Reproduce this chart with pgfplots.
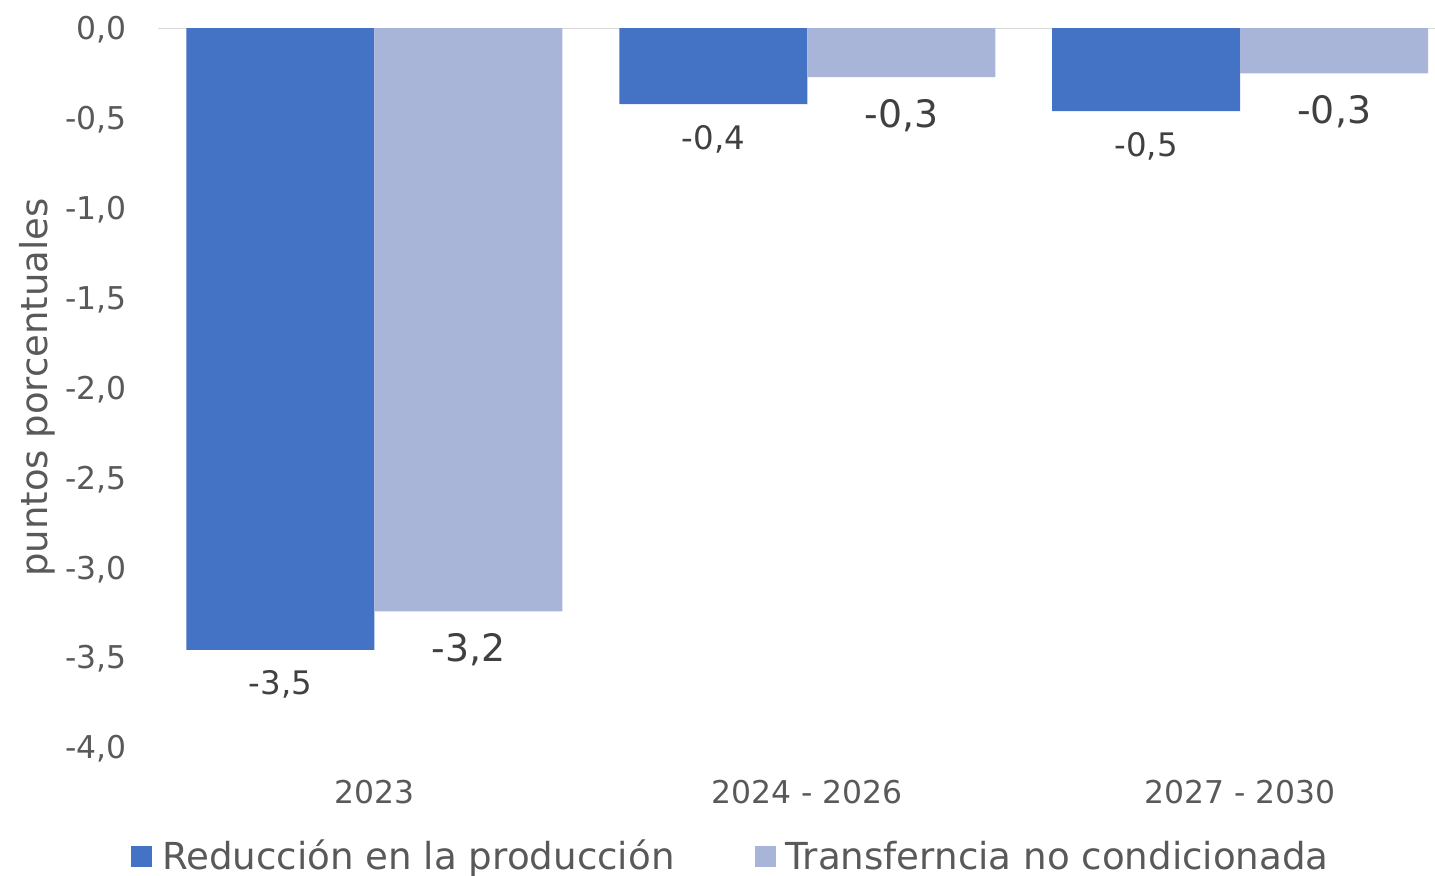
\documentclass[border=0pt]{standalone}
\usepackage{pgfplots}
\pgfplotsset{compat=1.18}
\usepackage{fontspec}
\setmainfont{DejaVu Sans}
\definecolor{darkbar}{HTML}{4472C4}
\definecolor{lightbar}{HTML}{A9B4D9}
\definecolor{ticktext}{HTML}{595959}
\definecolor{labeltext}{HTML}{404040}
\definecolor{gridc}{HTML}{D9D9D9}
\begin{document}
\begin{tikzpicture}
\path[use as bounding box] (0,0) rectangle (717.5pt,437.5pt);
\begin{axis}[
  at={(79pt,64pt)}, anchor=south west,
  width=638.5pt, height=359.5pt, scale only axis,
  xmin=-0.5, xmax=2.45, ymin=-4, ymax=0,
  ybar=0pt, bar width=94pt,
  axis line style={draw=none},
  tick style={draw=none},
  xtick={0,1,2}, xticklabels={2023, 2024 - 2026, 2027 - 2030},
  ytick={-4,-3.5,-3,-2.5,-2,-1.5,-1,-0.5,0},
  /pgf/number format/.cd, fixed, fixed zerofill, precision=1, use comma, assume math mode=true,
  /pgfplots/.cd,
  ticklabel style={font=\fontsize{15.7}{18}\selectfont, text=ticktext, inner sep=0pt},
  yticklabel style={xshift=-15.5pt, yshift=-1pt},
  xticklabel style={yshift=-12pt},
  ylabel={puntos porcentuales},
  ylabel style={at={(rel axis cs:-0.0948,0.5)}, anchor=center, inner sep=0pt, font=\fontsize{18.5}{22}\selectfont, text=ticktext},
  legend columns=2,
  legend style={at={(rel axis cs:-0.02114,-0.1523)}, anchor=west, draw=none, fill=none, inner sep=0pt, outer sep=0pt,
    nodes={inner sep=0pt, text=ticktext, font=\fontsize{18.6}{22}\selectfont},
    /tikz/every odd column/.append style={column sep=5pt},
    /tikz/every even column/.append style={column sep=40pt}},
  legend image code/.code={\fill[#1] (0pt,-5.25pt) rectangle (10.5pt,5.25pt);},
  nodes near coords={\pgfmathprintnumber[fixed,fixed zerofill,precision=1,use comma,assume math mode=true]{\pgfplotspointmeta}},
]
\draw[gridc, line width=1pt] (rel axis cs:0,1) -- (rel axis cs:1,1);
\addplot[fill=darkbar, draw=none,
  every node near coord/.append style={anchor=north, inner sep=0pt, yshift=-10.3pt, text=labeltext, font=\fontsize{16.2}{19}\selectfont}]
  coordinates {(0,-3.46) (1,-0.423) (2,-0.462)};
\addlegendentry{Reducción en la producción}
\addplot[fill=lightbar, draw=none,
  every node near coord/.append style={anchor=north, inner sep=0pt, yshift=-10.8pt, text=labeltext, font=\fontsize{18.9}{22}\selectfont}]
  coordinates {(0,-3.245) (1,-0.273) (2,-0.252)};
\addlegendentry{Transferncia no condicionada}
\end{axis}
\end{tikzpicture}
\end{document}
